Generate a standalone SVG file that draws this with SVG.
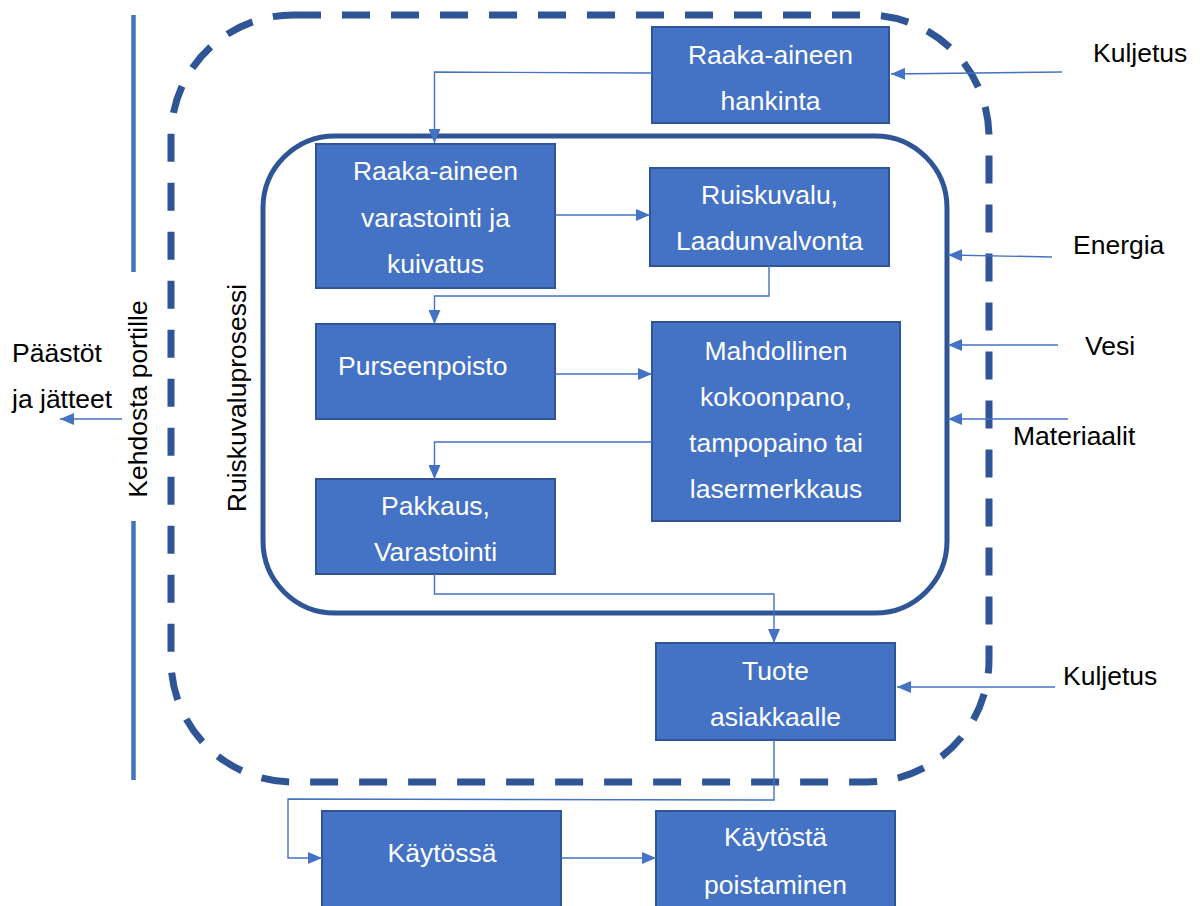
<svg xmlns="http://www.w3.org/2000/svg" width="1204" height="906" viewBox="0 0 1204 906">
  <defs>
    <marker id="arr" viewBox="0 0 14 12" refX="14" refY="6" markerWidth="14" markerHeight="12" markerUnits="userSpaceOnUse" orient="auto">
      <path d="M0,0 L14,6 L0,12 Z" fill="#4472C4"/>
    </marker>
  </defs>
  <style>
    .box { fill: #4472C4; stroke: #2F5597; stroke-width: 2; }
    .bt { fill: #FFFFFF; font-family: "Liberation Sans", Arial, sans-serif; font-size: 26.5px; text-anchor: middle; }
    .lbl { fill: #000000; font-family: "Liberation Sans", Arial, sans-serif; font-size: 26.5px; }
    .conA { fill: none; stroke: #4472C4; stroke-width: 1.4; marker-end: url(#arr); }
  </style>
  <rect width="1204" height="906" fill="#FFFFFF"/>

  <!-- system boundary -->
  <g id="boundary">
    <rect x="171" y="15" width="818" height="767" rx="122" ry="122" fill="none" stroke="#2F5597" stroke-width="7" stroke-dasharray="28 21"/>
  </g>

  <!-- cradle-to-gate bar -->
  <g id="cradle">
    <line x1="133.5" y1="15" x2="133.5" y2="272" stroke="#4472C4" stroke-width="4.5"/>
    <line x1="133.5" y1="521" x2="133.5" y2="780" stroke="#4472C4" stroke-width="4.5"/>
    <text class="lbl" transform="translate(147,399) rotate(-90)" text-anchor="middle">Kehdosta portille</text>
  </g>

  <!-- injection moulding process frame -->
  <g id="process">
    <rect x="263" y="136" width="684" height="477" rx="72" ry="72" fill="none" stroke="#2F5597" stroke-width="5"/>
    <text class="lbl" transform="translate(246,398) rotate(-90)" text-anchor="middle">Ruiskuvaluprosessi</text>
  </g>

  <g id="n-hankinta">
    <rect class="box" x="652" y="27" width="237" height="96"/>
    <text class="bt" x="770.5" y="64">Raaka-aineen</text>
    <text class="bt" x="770.5" y="110">hankinta</text>
  </g>

  <g id="n-varastointi">
    <rect class="box" x="316" y="144" width="239" height="144"/>
    <text class="bt" x="435.5" y="180">Raaka-aineen</text>
    <text class="bt" x="435.5" y="227">varastointi ja</text>
    <text class="bt" x="435.5" y="273">kuivatus</text>
  </g>

  <g id="n-ruiskuvalu">
    <rect class="box" x="650" y="168" width="239" height="98"/>
    <text class="bt" x="769.5" y="204">Ruiskuvalu,</text>
    <text class="bt" x="769.5" y="250">Laadunvalvonta</text>
  </g>

  <g id="n-purseenpoisto">
    <rect class="box" x="316" y="324" width="239" height="95"/>
    <text class="bt" x="338" y="375" style="text-anchor:start">Purseenpoisto</text>
  </g>

  <g id="n-kokoonpano">
    <rect class="box" x="652" y="322" width="248" height="199"/>
    <text class="bt" x="776" y="360">Mahdollinen</text>
    <text class="bt" x="776" y="406">kokoonpano,</text>
    <text class="bt" x="776" y="452">tampopaino tai</text>
    <text class="bt" x="776" y="498">lasermerkkaus</text>
  </g>

  <g id="n-pakkaus">
    <rect class="box" x="316" y="479" width="239" height="95"/>
    <text class="bt" x="435.5" y="515">Pakkaus,</text>
    <text class="bt" x="435.5" y="561">Varastointi</text>
  </g>

  <g id="n-tuote">
    <rect class="box" x="656" y="643" width="239" height="97"/>
    <text class="bt" x="775.5" y="680">Tuote</text>
    <text class="bt" x="775.5" y="726">asiakkaalle</text>
  </g>

  <g id="n-kaytossa">
    <rect class="box" x="322" y="811" width="239" height="100"/>
    <text class="bt" x="442" y="862">Käytössä</text>
  </g>

  <g id="n-poistaminen">
    <rect class="box" x="656" y="811" width="239" height="100"/>
    <text class="bt" x="775.5" y="846">Käytöstä</text>
    <text class="bt" x="775.5" y="894">poistaminen</text>
  </g>

  <!-- inputs and outputs -->
  <g id="labels">
    <text class="lbl" x="1093" y="62">Kuljetus</text>
    <text class="lbl" x="1073" y="254">Energia</text>
    <text class="lbl" x="1085" y="355">Vesi</text>
    <text class="lbl" x="1013" y="445">Materiaalit</text>
    <text class="lbl" x="1063" y="685">Kuljetus</text>
    <text class="lbl" x="12" y="362">Päästöt</text>
    <text class="lbl" x="12" y="408">ja jätteet</text>
  </g>

  <g id="connectors">
    <polyline class="conA" points="652,73 434.5,72 434.5,143"/>
    <polyline class="conA" points="555,215 650,215"/>
    <polyline class="conA" points="769,266 769,296 434.5,296 434.5,324"/>
    <polyline class="conA" points="555,374 652,374"/>
    <polyline class="conA" points="652,442 434.5,442 434.5,479"/>
    <polyline class="conA" points="434.5,574 434.5,594 774,594 774,643"/>
    <polyline class="conA" points="774,740 774,800 288,799 288,858 322,858"/>
    <polyline class="conA" points="561,858 656,858"/>
    <polyline class="conA" points="1062,72 891,74"/>
    <polyline class="conA" points="1052,257 948,255"/>
    <polyline class="conA" points="1058,345 948,345"/>
    <polyline class="conA" points="1068,419 948,419"/>
    <polyline class="conA" points="1055,687 897,687"/>
    <polyline class="conA" points="122,419 60,419"/>
  </g>
</svg>
